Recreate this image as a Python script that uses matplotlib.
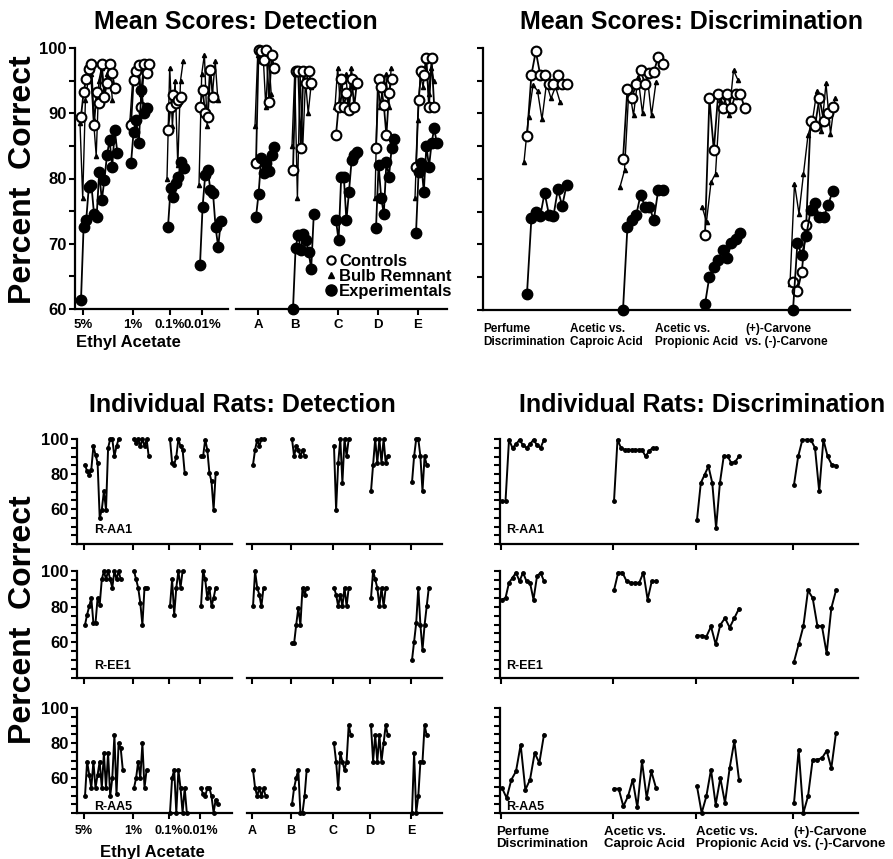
import matplotlib
matplotlib.use('Agg')
import matplotlib.pyplot as plt
from matplotlib.ticker import MultipleLocator
from matplotlib.lines import Line2D

plt.rcParams['font.family'] = ['Liberation Sans', 'DejaVu Sans']
plt.rcParams['font.weight'] = 'bold'

W, H = 893, 859

# ---------------- data ----------------
det_cats = ['5%', '1%', '0.1%', '0.01%', 'A', 'B', 'C', 'D', 'E']
disc_cats = ['Perfume\nDiscrimination', 'Acetic vs.\nCaproic Acid',
             'Acetic vs.\nPropionic Acid', '(+)-Carvone\nvs. (-)-Carvone']
legend_labels = ['Controls', 'Bulb Remnant', 'Experimentals']
rat_names = ['R-AA1', 'R-EE1', 'R-AA5']

# mean scores, detection (one list per category)
det_ctrl = [
    [89.5, 93.2, 95.3, 96.8, 97.5, 88.2, 93.2, 91.5, 97.5, 92.5, 94.7, 97.5, 96.1, 93.9],
    [88.2, 95.1, 96.4, 97.4, 91.0, 97.6, 96.1, 97.6],
    [87.4, 91.0, 92.8, 91.5, 92.0, 92.5],
    [91.0, 93.6, 90.0, 89.5, 96.6, 92.5],
    [82.3, 99.7, 99.5, 98.2, 99.7, 91.8, 98.9, 96.9],
    [81.3, 96.4, 96.4, 84.6, 96.4, 94.6, 96.4, 94.6],
    [86.7, 91.0, 95.3, 91.0, 93.1, 90.5, 95.3, 91.0, 94.6],
    [84.6, 95.3, 94.0, 91.3, 86.6, 93.1, 95.3],
    [81.8, 92.0, 96.4, 95.9, 98.4, 91.0, 98.4, 91.0],
]
det_bulb = [
    [88.5, 77.0, 92.0, 95.0, 96.0, 89.0, 83.5, 95.0, 97.0, 93.0, 96.0, 97.0, 92.0],
    [89.0, 95.0, 97.0, 97.0, 93.0, 97.0, 96.0],
    [80.0, 97.0, 88.0, 95.0, 82.0, 95.0, 98.0],
    [79.0, 96.0, 99.0, 88.0, 97.0, 93.0, 98.0, 92.0],
    [88.0, 99.0, 98.0, 99.0, 91.0, 99.0, 93.0],
    [85.0, 96.0, 77.0, 96.0, 85.0, 95.0, 90.0, 94.0],
    [91.0, 97.0, 91.0, 95.0, 96.0, 91.0, 97.0, 94.0],
    [77.0, 95.0, 91.0, 95.0, 96.0, 91.0, 97.0],
    [77.0, 89.0, 96.0, 94.0, 98.0, 93.0, 97.0, 95.0],
]
det_exp = [
    [61.4, 72.6, 73.6, 78.7, 79.0, 74.6, 74.1, 81.0, 76.7, 79.8, 83.6, 85.9, 81.8, 87.4, 83.9],
    [82.3, 87.2, 89.0, 85.4, 93.6, 90.0, 90.8],
    [72.6, 78.5, 77.2, 79.3, 80.3, 82.6, 81.6],
    [66.8, 75.7, 80.5, 81.3, 78.2, 77.8, 72.5, 69.5, 73.5],
    [74.1, 77.7, 83.1, 80.8, 82.3, 81.1, 83.6, 84.9],
    [60.0, 69.4, 71.4, 69.0, 71.5, 70.5, 68.7, 66.2, 74.6],
    [73.6, 70.5, 80.3, 80.3, 73.6, 78.0, 82.8, 83.6, 84.1],
    [72.4, 82.1, 77.0, 74.6, 82.5, 80.3, 84.6, 86.0],
    [71.6, 81.0, 82.3, 78.0, 85.0, 81.8, 85.4, 87.7, 85.4],
]

# mean scores, discrimination
disc_ctrl = [
    [86.5, 95.9, 99.5, 95.9, 95.9, 94.5, 94.5, 95.9, 94.5, 94.5],
    [83.0, 93.8, 92.4, 94.5, 96.6, 94.5, 96.2, 96.4, 98.6, 97.5],
    [71.5, 92.4, 84.4, 93.0, 90.9, 93.0, 90.9, 93.0, 93.0, 90.9],
    [64.2, 62.9, 65.8, 73.0, 88.9, 88.1, 92.4, 88.9, 90.0, 91.0],
]
disc_bulb = [
    [82.6, 89.5, 94.3, 93.5, 89.1, 94.6, 92.3, 94.1, 91.8],
    [78.8, 81.3, 94.0, 89.7, 95.6, 90.0, 96.1, 89.7, 94.8],
    [75.8, 73.5, 79.5, 80.8, 92.0, 92.5, 89.7, 96.6, 95.1],
    [64.0, 79.3, 74.7, 80.8, 86.7, 89.0, 93.5, 87.4, 94.6, 86.9, 92.3],
]
disc_exp = [
    [62.5, 74.0, 74.9, 74.3, 77.9, 74.5, 74.3, 78.4, 75.9, 79.1],
    [60.0, 72.6, 73.7, 74.5, 77.6, 75.8, 75.8, 73.7, 78.3, 78.3],
    [60.9, 65.1, 66.6, 67.6, 69.1, 67.9, 70.2, 70.9, 71.7],
    [60.0, 70.2, 68.4, 71.3, 75.2, 76.4, 74.2, 74.2, 76.1, 78.1],
]

# individual rats, detection
ind_det_aa1 = [
    [85.3, 81.5, 79.6, 82.5, 95.8, 91.0, 86.3, 54.9, 59.6, 70.1, 59.6, 94.9, 100, 100, 90.1, 95.8, 100],
    [100, 97.7, 100, 95.8, 100, 95.8, 100, 90.1],
    [100, 86.3, 85.3, 90.0, 100, 95.8, 93.9, 80.6],
    [90.1, 90.1, 99.6, 93.9, 80.6, 75.8, 59.6, 80.6],
    [85.3, 93.9, 99.6, 95.8, 100, 100],
    [100, 90.1, 95.8, 93.9, 90.1, 93.9, 90.1],
    [95.8, 59.6, 86.3, 100, 74.9, 100, 90.1, 100],
    [70.1, 85.3, 100, 86.3, 100, 86.3, 100, 86.3, 90.1],
    [75.2, 90.1, 100, 100, 90.1, 70.1, 90.1, 85.3],
]
ind_det_ee1 = [
    [69.8, 75.5, 80.2, 84.9, 70.8, 70.8, 84.9, 81.1, 95.3, 100, 95.3, 100, 95.3, 90.6, 100, 95.3, 100, 95.3],
    [100, 95.3, 90.6, 82.1, 69.8, 90.6, 90.6],
    [80.2, 95.3, 75.5, 90.6, 100, 90.6, 100],
    [80.2, 100, 95.3, 84.9, 90.6, 80.2, 84.9, 90.6],
    [80.2, 100, 90.6, 86.8, 80.2, 90.6],
    [59.4, 59.4, 69.8, 79.2, 69.8, 90.6, 86.8, 90.6],
    [90.6, 86.8, 80.2, 86.8, 80.2, 90.6, 80.2, 90.6],
    [84.9, 100, 95.3, 90.6, 80.2, 90.6, 80.2, 90.6],
    [50.0, 60.4, 70.8, 90.6, 69.8, 55.7, 69.8, 80.2, 90.6],
]
ind_det_aa5 = [
    [49.6, 69.4, 61.9, 54.3, 69.4, 54.3, 61.9, 69.4, 54.3, 74.2, 54.3, 74.2, 49.6, 60.0, 84.5, 50.6, 79.8, 77.0, 64.7],
    [54.3, 60.0, 69.4, 60.0, 79.8, 54.3, 64.7],
    [40.2, 60.0, 64.7, 40.2, 64.7, 54.3, 40.2, 54.3, 40.2],
    [54.3, 50.6, 49.6, 54.3, 54.3, 49.6, 40.2, 47.7, 44.9],
    [64.7, 54.3, 49.6, 54.3, 49.6, 54.3, 49.6],
    [44.9, 54.3, 60.0, 64.7, 40.2, 40.2, 49.6, 64.7],
    [79.8, 69.4, 54.3, 74.2, 69.4, 64.7, 69.4, 90.2, 84.5],
    [90.2, 69.4, 84.5, 69.4, 84.5, 69.4, 79.8, 90.2, 84.5],
    [40.2, 74.2, 40.2, 49.6, 69.4, 69.4, 90.2, 84.5],
]

# individual rats, discrimination
ind_dis_aa1 = [
    [64.4, 64.4, 99.6, 94.9, 97.0, 99.6, 96.5, 94.9, 97.0, 99.6, 96.5, 94.9, 99.6],
    [64.4, 99.6, 94.9, 93.9, 93.9, 93.9, 93.9, 93.9, 93.9, 90.1, 93.0, 94.9, 94.9],
    [53.9, 74.9, 79.6, 84.4, 74.9, 49.1, 74.9, 90.1, 90.1, 86.3, 87.0, 90.1],
    [73.9, 90.1, 99.6, 99.6, 99.6, 94.9, 70.1, 99.6, 90.1, 85.3, 84.8],
]
ind_dis_ee1 = [
    [84.0, 84.9, 93.4, 96.2, 99.1, 94.3, 99.1, 94.3, 93.4, 84.0, 97.0, 99.1, 94.3],
    [89.2, 99.1, 99.1, 94.3, 93.4, 93.4, 93.4, 99.1, 84.0, 94.3, 94.3],
    [63.8, 63.8, 63.2, 68.9, 58.9, 69.8, 73.6, 68.3, 73.6, 78.9],
    [49.1, 58.9, 68.9, 89.1, 84.9, 69.4, 68.9, 53.8, 79.2, 89.1],
]
ind_dis_aa5 = [
    [54.3, 48.6, 59.0, 63.8, 79.0, 53.3, 59.0, 74.3, 68.6, 84.8],
    [53.9, 53.9, 43.8, 49.5, 59.0, 43.2, 69.5, 48.6, 63.8, 54.3],
    [55.2, 40.0, 49.5, 64.8, 44.8, 60.0, 45.7, 65.7, 81.0, 59.0],
    [45.7, 76.2, 40.0, 49.5, 70.5, 70.5, 71.4, 75.6, 65.7, 85.7],
]

# ---------------- layout (pixel positions) ----------------
det_ticks = [83, 133, 170, 202, 258, 295, 338, 378, 418]
disc_starts = [527, 623, 705, 793]
disc_label_x = [483, 570, 655, 745]
ind_ticks = [84, 133, 169, 200, 252, 291, 333, 370, 411]
ind_dis_ticks = [501, 613, 696, 793]
ind_dis_label_x = [496, 604, 696, 793]
rows = [(439, 544), (571, 678), (708, 813)]
rat_label_y = [48, 46.5, 43.5]

fig = plt.figure(figsize=(W / 100, H / 100), dpi=100)


def add_ax(x0, x1, ytop, ybot):
    ax = fig.add_axes([x0 / W, 1 - ybot / H, (x1 - x0) / W, (ybot - ytop) / H])
    ax.set_xlim(x0, x1)
    ax.patch.set_alpha(0)
    for s in ['top', 'right']:
        ax.spines[s].set_visible(False)
    ax.spines['left'].set_linewidth(1.6)
    ax.spines['bottom'].set_linewidth(1.6)
    return ax


def xs(start, n, step):
    return [start + i * step for i in range(n)]


def ftext(x, y, s, **kw):
    fig.text(x / W, 1 - y / H, s, **kw)


# ---------- Mean Scores: Detection ----------
axL = add_ax(75, 228, 48, 309)
axR = add_ax(236, 447, 48, 309)
for ax in (axL, axR):
    ax.set_ylim(60, 100)
    ax.tick_params(axis='x', length=4, width=1.5, labelsize=9.5, pad=3)
axL.yaxis.set_major_locator(MultipleLocator(10))
axL.yaxis.set_minor_locator(MultipleLocator(5))
axL.tick_params(axis='y', which='both', length=4, width=1.5, labelsize=12, pad=2)
axR.spines['left'].set_visible(False)
axR.set_yticks([])

for i in range(len(det_cats)):
    ax = axL if i < 4 else axR
    x0 = det_ticks[i] - 2
    b, c, e = det_bulb[i], det_ctrl[i], det_exp[i]
    ax.plot(xs(x0 - 1, len(b), 2.7), b, '-^', color='black', lw=1.0, ms=3, clip_on=False)
    ax.plot(xs(x0, len(c), 2.6), c, '-o', color='black', mfc='white', mec='black',
            mew=1.5, ms=7, lw=1.3, clip_on=False)
    ax.plot(xs(x0, len(e), 2.6), e, '-o', color='black', ms=7.5, lw=1.3, clip_on=False)
axL.set_xticks(det_ticks[:4])
axL.set_xticklabels(det_cats[:4])
axR.set_xticks(det_ticks[4:])
axR.set_xticklabels(det_cats[4:])

handles = [Line2D([], [], ls='none', marker='o', mfc='white', mec='black', mew=1.5, ms=6),
           Line2D([], [], ls='none', marker='^', color='black', ms=4),
           Line2D([], [], ls='none', marker='o', color='black', ms=8)]
fig.legend(handles, legend_labels, loc='upper left', bbox_to_anchor=(326 / W, 1 - 254 / H),
           frameon=False, fontsize=12, handlelength=0.6, handletextpad=0.2,
           labelspacing=0.0, borderpad=0, borderaxespad=0)

ftext(236, 22, 'Mean Scores: Detection', ha='center', va='center', fontsize=18)
ftext(128, 343, 'Ethyl Acetate', ha='center', va='center', fontsize=12)

# ---------- Mean Scores: Discrimination ----------
axD = add_ax(483, 850, 48, 310)
axD.set_ylim(60, 100)
axD.yaxis.set_major_locator(MultipleLocator(5))
axD.tick_params(axis='y', length=4, width=1.5, labelleft=False)
axD.set_xticks([])
for i in range(len(disc_cats)):
    x0 = disc_starts[i]
    b, c, e = disc_bulb[i], disc_ctrl[i], disc_exp[i]
    axD.plot(xs(x0 - 3, len(b), 4.5), b, '-^', color='black', lw=1.0, ms=3, clip_on=False)
    axD.plot(xs(x0, len(c), 4.4), c, '-o', color='black', mfc='white', mec='black',
             mew=1.5, ms=7, lw=1.3, clip_on=False)
    axD.plot(xs(x0, len(e), 4.4), e, '-o', color='black', ms=7.5, lw=1.3, clip_on=False)
    ftext(disc_label_x[i], 323, disc_cats[i], ha='left', va='top', fontsize=8.5, linespacing=1.1)
ftext(691, 22, 'Mean Scores: Discrimination', ha='center', va='center', fontsize=18)

# ---------- Individual Rats ----------
ftext(242, 405, 'Individual Rats: Detection', ha='center', va='center', fontsize=18)
ftext(702, 405, 'Individual Rats: Discrimination', ha='center', va='center', fontsize=18)

ind_det = [ind_det_aa1, ind_det_ee1, ind_det_aa5]
ind_dis = [ind_dis_aa1, ind_dis_ee1, ind_dis_aa5]
for r, (ytop, ybot) in enumerate(rows):
    last = r == len(rows) - 1
    aL = add_ax(77, 232, ytop, ybot)
    aR = add_ax(247, 442, ytop, ybot)
    aD = add_ax(500, 858, ytop, ybot)
    for ax in (aL, aR, aD):
        ax.set_ylim(40, 100)
        ax.tick_params(axis='x', length=4, width=1.5, labelsize=9, pad=5)
    aL.yaxis.set_minor_locator(MultipleLocator(5))
    aL.set_yticks([60, 80, 100])
    aL.tick_params(axis='y', which='both', length=4, width=1.5, labelsize=12, pad=2)
    aR.spines['left'].set_visible(False)
    aR.set_yticks([])
    aD.yaxis.set_major_locator(MultipleLocator(5))
    aD.tick_params(axis='y', length=4, width=1.5, labelleft=False)

    for i in range(len(det_cats)):
        ax = aL if i < 4 else aR
        v = ind_det[r][i]
        ax.plot(xs(ind_ticks[i] + 1, len(v), 2.1), v, '-o', color='black', lw=1.4, ms=2.5,
                clip_on=False)
    for i in range(len(disc_cats)):
        v = ind_dis[r][i]
        aD.plot(xs(ind_dis_ticks[i] + 1, len(v), 42 / (len(v) - 1)), v, '-o', color='black',
                lw=1.4, ms=2.5, clip_on=False)

    aL.set_xticks(ind_ticks[:4])
    aR.set_xticks(ind_ticks[4:])
    aD.set_xticks(ind_dis_ticks)
    if last:
        aL.set_xticklabels(det_cats[:4])
        aR.set_xticklabels(det_cats[4:])
        aD.set_xticklabels([])
        for i in range(len(disc_cats)):
            ftext(ind_dis_label_x[i], 826, disc_cats[i], ha='left', va='top', fontsize=9.5,
                  linespacing=1.05)
    else:
        for ax in (aL, aR, aD):
            ax.set_xticklabels([])

    aL.text(ind_ticks[0] + 10, rat_label_y[r], rat_names[r], fontsize=9, va='center')
    aD.text(ind_dis_ticks[0] + 5, rat_label_y[r], rat_names[r], fontsize=9, va='center')

ftext(152, 852, 'Ethyl Acetate', ha='center', va='center', fontsize=12)

ftext(23, 180, 'Percent  Correct', rotation=90, ha='center', va='center', fontsize=23)
ftext(23, 620, 'Percent  Correct', rotation=90, ha='center', va='center', fontsize=23)

fig.savefig('out.png', dpi=100)
